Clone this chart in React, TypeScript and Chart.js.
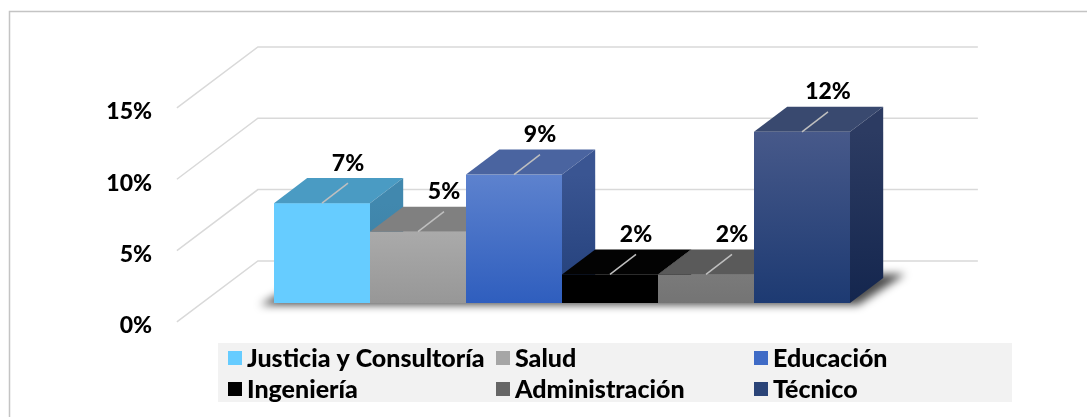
import React, { useEffect, useRef } from "react";
import { Chart, registerables } from "chart.js";

Chart.register(...registerables);

// ---------- data ----------
const categories = [
  "Justicia y Consultoría",
  "Salud",
  "Educación",
  "Ingeniería",
  "Administración",
  "Técnico",
];
const values = [7, 5, 9, 2, 2, 12];
const yTicks = [0, 5, 10, 15];

// ---------- styles ----------
const legendColors = ["#66CCFF", "#A6A6A6", "#3F6BC6", "#000000", "#666666", "#2B4478"];
const frontTop = ["#66CCFF", "#AAAAAA", "#5D82CE", "#000000", "#7A7A7A", "#47598A"];
const frontBottom = ["#66CCFF", "#979797", "#2F5EBE", "#000000", "#747474", "#1D3A72"];
const topColors = ["#4A9BC3", "#808080", "#4A64A0", "#030303", "#5A5A5A", "#39496F"];
const sideTop = ["#4188AE", "#8C8C8C", "#3A5592", "#000000", "#5F5F5F", "#2C3B62"];
const sideBottom = ["#3A7EA2", "#7E7E7E", "#223F7A", "#000000", "#555555", "#14264E"];

const FONT = "Lato, 'DejaVu Sans', sans-serif";
const WEIGHT = "900";
const FLOOR = { dx: 81, dy: -61 }; // full floor depth (front edge -> back wall)
const BAR_FRONT = 0.31; // bar front plane as a fraction of floor depth
const BAR_BACK = 0.72;

const threeD = {
  id: "threeD",
  beforeDatasetsDraw(chart: any) {
    const ctx = chart.ctx as CanvasRenderingContext2D;
    const ys = chart.scales.y;
    const area = chart.chartArea;
    const fdx = -BAR_FRONT * FLOOR.dx, fdy = -BAR_FRONT * FLOOR.dy;
    const wdx = (1 - BAR_FRONT) * FLOOR.dx, wdy = (1 - BAR_FRONT) * FLOOR.dy;
    const bdx = (BAR_BACK - BAR_FRONT) * FLOOR.dx, bdy = (BAR_BACK - BAR_FRONT) * FLOOR.dy;

    ctx.save();
    // wall + floor grid lines
    ctx.strokeStyle = "#D9D9D9";
    ctx.lineWidth = 1.5;
    yTicks.forEach((v) => {
      const py = ys.getPixelForValue(v);
      ctx.beginPath();
      ctx.moveTo(area.left + fdx, py + fdy);
      ctx.lineTo(area.left + wdx, py + wdy);
      ctx.lineTo(area.right + wdx, py + wdy);
      ctx.stroke();
    });

    const bars = categories.map((_, i) => {
      const el = chart.getDatasetMeta(i).data[0];
      const p = el.getProps(["x", "y", "base", "width"], true);
      return { left: p.x - p.width / 2, right: p.x + p.width / 2, top: p.y, base: p.base, cx: p.x };
    });
    const minL = Math.min(...bars.map((b) => b.left));
    const maxR = Math.max(...bars.map((b) => b.right));
    const base = bars[0].base;

    // soft floor shadow
    ctx.save();
    ctx.filter = "blur(4px)";
    ctx.fillStyle = "rgba(0,0,0,0.7)";
    ctx.beginPath();
    ctx.moveTo(minL - 14, base + 2);
    ctx.lineTo(maxR + 8, base + 2);
    ctx.lineTo(maxR + bdx + 22, base + bdy - 4);
    ctx.lineTo(minL + bdx, base + bdy);
    ctx.closePath();
    ctx.fill();
    ctx.restore();

    // bars, painted left to right
    bars.forEach((b, i) => {
      const g = ctx.createLinearGradient(0, b.top, 0, b.base);
      g.addColorStop(0, frontTop[i]);
      g.addColorStop(1, frontBottom[i]);
      ctx.fillStyle = g;
      ctx.fillRect(b.left, b.top, b.right - b.left, b.base - b.top);
      ctx.fillStyle = topColors[i];
      ctx.beginPath();
      ctx.moveTo(b.left, b.top);
      ctx.lineTo(b.right, b.top);
      ctx.lineTo(b.right + bdx, b.top + bdy);
      ctx.lineTo(b.left + bdx, b.top + bdy);
      ctx.closePath();
      ctx.fill();
      const sg = ctx.createLinearGradient(0, b.top, 0, b.base);
      sg.addColorStop(0, sideTop[i]);
      sg.addColorStop(1, sideBottom[i]);
      ctx.fillStyle = sg;
      ctx.beginPath();
      ctx.moveTo(b.right, b.top);
      ctx.lineTo(b.right + bdx, b.top + bdy);
      ctx.lineTo(b.right + bdx, b.base + bdy);
      ctx.lineTo(b.right, b.base);
      ctx.closePath();
      ctx.fill();
    });

    // data labels with leader lines
    bars.forEach((b, i) => {
      const lx = b.cx + 26, ly = b.top - 40;
      ctx.strokeStyle = "#BFBFBF";
      ctx.lineWidth = 1.5;
      ctx.beginPath();
      ctx.moveTo(lx, ly + 20);
      ctx.lineTo(b.cx, b.top);
      ctx.stroke();
      ctx.fillStyle = "#000";
      ctx.font = `${WEIGHT} 23px ${FONT}`;
      ctx.textAlign = "center";
      ctx.textBaseline = "middle";
      ctx.fillText(values[i] + "%", lx, ly);
    });
    ctx.restore();
    return false;
  },
  afterDraw(chart: any) {
    const ctx = chart.ctx as CanvasRenderingContext2D;
    ctx.save();
    // legend
    ctx.fillStyle = "#F2F2F2";
    ctx.fillRect(218, 343, 794, 59);
    const cols = [228, 496, 754];
    const rows = [358, 389];
    ctx.font = `${WEIGHT} 25px ${FONT}`;
    ctx.textAlign = "left";
    ctx.textBaseline = "middle";
    chart.data.datasets.forEach((ds: any, i: number) => {
      const x = cols[i % 3], y = rows[Math.floor(i / 3)];
      ctx.fillStyle = ds.backgroundColor;
      ctx.fillRect(x, y - 7, 14, 14);
      ctx.fillStyle = "#000";
      ctx.fillText(ds.label, x + 19, y + 1);
    });
    // outer border (top + left)
    ctx.strokeStyle = "#C4C4C4";
    ctx.lineWidth = 1.5;
    ctx.beginPath();
    ctx.moveTo(9.5, 417);
    ctx.lineTo(9.5, 11.5);
    ctx.lineTo(1087, 11.5);
    ctx.stroke();
    ctx.restore();
  },
};

export default function App() {
  const ref = useRef<HTMLCanvasElement>(null);
  useEffect(() => {
    if (!ref.current) return;
    const chart = new Chart(ref.current, {
      type: "bar",
      data: {
        labels: [""],
        datasets: categories.map((c, i) => ({
          label: c,
          data: [values[i]],
          backgroundColor: legendColors[i],
        })),
      },
      options: {
        animation: false,
        responsive: false,
        events: [],
        layout: { padding: { left: 0, right: 165, top: 89, bottom: 114 } },
        datasets: { bar: { barPercentage: 1, categoryPercentage: 0.8 } },
        plugins: { legend: { display: false }, tooltip: { enabled: false } },
        scales: {
          x: { display: false },
          y: {
            min: 0,
            max: 15,
            afterFit: (s: any) => {
              s.width = 202;
            },
            afterBuildTicks: (s: any) => {
              s.ticks = yTicks.map((v) => ({ value: v }));
            },
            ticks: {
              callback: (v: any) => v + "%",
              font: { family: FONT, size: 23, weight: WEIGHT },
              color: "#000",
              padding: 42,
              labelOffset: 23,
            },
            grid: { display: false },
            border: { display: false },
          },
        },
      },
      plugins: [threeD],
    });
    return () => chart.destroy();
  }, []);
  return (
    <div style={{ position: "fixed", left: 0, top: 0, width: 1087, height: 417, background: "#fff" }}>
      <canvas ref={ref} width={1087} height={417} style={{ display: "block" }} />
    </div>
  );
}
